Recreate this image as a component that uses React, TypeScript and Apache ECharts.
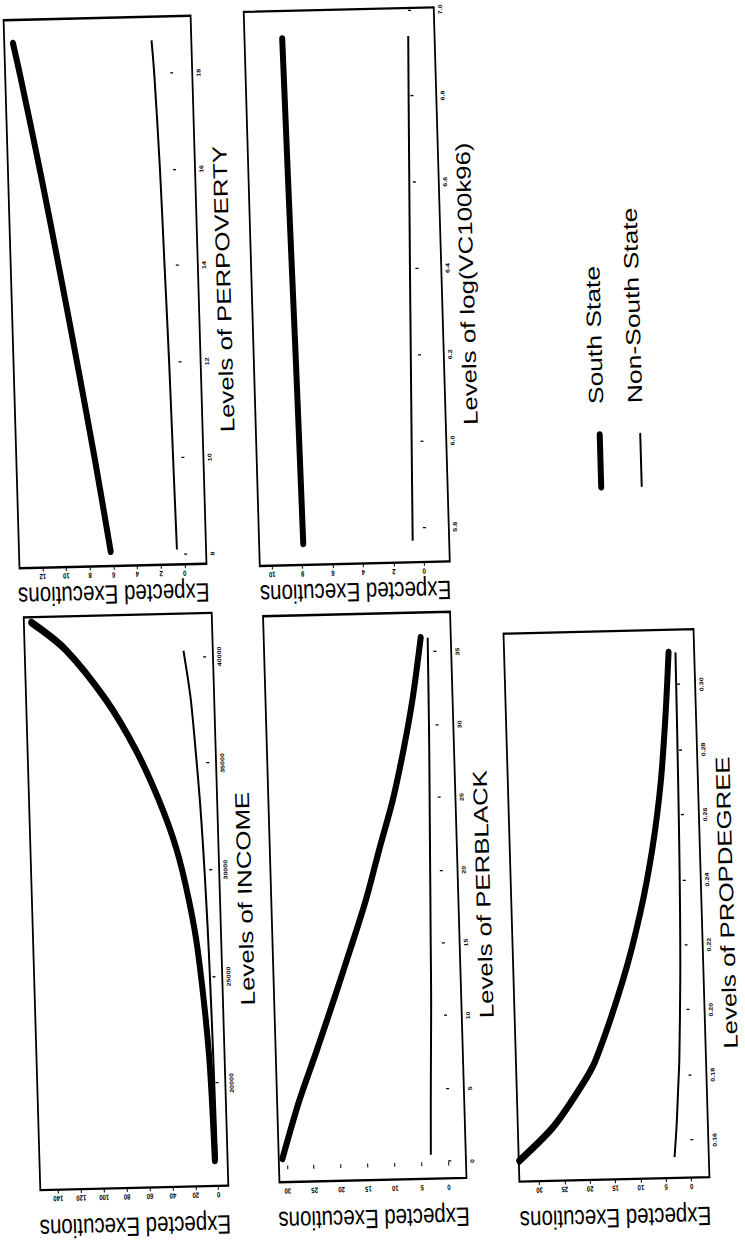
import React, { useEffect, useRef } from "react";
import * as echarts from "echarts";

// ---------- page geometry (the scan is a landscape page, turned, stretched and slightly sheared) ----------
const PAGE_W = 745;
const PAGE_H = 1244;
const STRETCH = 1.29;
const INNER_W = Math.round(PAGE_H / STRETCH);
const INNER_H = PAGE_W;
const SHEAR_X = 0.029;
const SHEAR_Y = 0.024;
const FONT = '"Liberation Sans", Arial, Helvetica, sans-serif';

// ---------- data ----------
// INCOME
const incomeSouthX = [16400, 21400, 26200, 28600, 31000, 33300, 35700, 38100, 40500, 41800];
const incomeSouth = [2.5, 5, 12, 18.5, 28, 42, 61, 86, 120, 149];
const incomeNonX = [16400, 21400, 26200, 28600, 31000, 33300, 35700, 38100, 40300];
const incomeNon = [0.6, 1.3, 2.5, 3.5, 4.8, 6.5, 9, 12, 17];
const incomeTicks = [20000, 25000, 30000, 35000, 40000];
const incomeYTicks = [0, 20, 40, 60, 80, 100, 120, 140];

// PERPOVERTY
const povX = [8.1, 10, 12, 14, 16, 18, 18.7];
const povSouth = [6.2, 7.3, 8.55, 9.85, 11.2, 12.65, 13.2];
const povNon = [0.6, 0.7, 0.8, 0.95, 1.1, 1.35, 1.5];
const povTicks = [8, 10, 12, 14, 16, 18];
const povYTicks = [0, 2, 4, 6, 8, 10, 12];

// PERBLACK
const blackX = [0.5, 4.4, 7.8, 11.2, 14.7, 18.1, 21.6, 25, 28.5, 31.9, 36];
const blackSouth = [30.8, 27.4, 23.9, 20.5, 17.1, 13.9, 11.1, 8.3, 6.0, 4.1, 2.3];
const blackNon = [3.2, 2.9, 2.6, 2.3, 2.1, 1.9, 1.7, 1.5, 1.3, 1.15, 1.0];
const blackTicks = [0, 5, 10, 15, 20, 25, 30, 35];
const blackYTicks = [0, 5, 10, 15, 20, 25, 30];

// log(VC100k96)
const vcX = [5.77, 6.0, 6.2, 6.4, 6.6, 6.8, 6.94];
const vcSouth = [7.9, 7.97, 8.04, 8.12, 8.2, 8.27, 8.32];
const vcNon = [0.7, 0.58, 0.47, 0.36, 0.24, 0.12, 0.03];
const vcTicks = [5.8, 6.0, 6.2, 6.4, 6.6, 6.8, 7.0];
const vcYTicks = [0, 2, 4, 6, 8, 10];

// PROPDEGREE
const degX = [0.155, 0.165, 0.176, 0.185, 0.21, 0.23, 0.25, 0.27, 0.29, 0.31];
const degSouth = [33.8, 27.0, 21.8, 18.3, 12.3, 8.6, 5.8, 3.8, 2.5, 1.5];
const degNon = [3.2, 2.6, 2.1, 1.7, 1.05, 0.72, 0.5, 0.35, 0.23, 0.14];
const degTicks = [0.16, 0.18, 0.2, 0.22, 0.24, 0.26, 0.28, 0.3];
const degYTicks = [0, 5, 10, 15, 20, 25, 30];

const legendNames = ["South State", "Non-South State"];
const yTitle = "Expected Executions";

const pairs = (xs: number[], ys: number[]) => xs.map((x, i) => [x, ys[i]]);

type Panel = {
  grid: { left: number; top: number; width: number; height: number };
  yTitleGap: number;
  xMin: number; xMax: number; xTicks: number[]; xDec: number;
  yMin: number; yMax: number; yTicks: number[];
  south: number[][]; non: number[][];
  title: string;
};

function buildOption() {
  const panels: Panel[] = [
    {
      grid: { left: 48.5, top: 23.6, width: 444, height: 188 },
      yTitleGap: 30,
      xMin: 15200, xMax: 42050, xTicks: incomeTicks, xDec: 0,
      yMin: -8.6, yMax: 155.5, yTicks: incomeYTicks,
      south: pairs(incomeSouthX, incomeSouth), non: pairs(incomeNonX, incomeNon),
      title: "Levels of INCOME",
    },
    {
      grid: { left: 530.6, top: 20.8, width: 424.8, height: 187 },
      yTitleGap: 22,
      xMin: 7.79, xMax: 19.19, xTicks: povTicks, xDec: 0,
      yMin: -1.86, yMax: 13.94, yTicks: povYTicks,
      south: pairs(povX, povSouth), non: pairs(povX, povNon),
      title: "Levels of PERPOVERTY",
    },
    {
      grid: { left: 50.1, top: 262.8, width: 438.8, height: 187 },
      yTitleGap: 30,
      xMin: -1.14, xMax: 37.74, xTicks: blackTicks, xDec: 0,
      yMin: -3.3, yMax: 31.5, yTicks: blackYTicks,
      south: pairs(blackX, blackSouth), non: pairs(blackX, blackNon),
      title: "Levels of PERBLACK",
    },
    {
      grid: { left: 527.9, top: 261, width: 429.5, height: 190 },
      yTitleGap: 22,
      xMin: 5.72, xMax: 7.005, xTicks: vcTicks, xDec: 1,
      yMin: -1.7, yMax: 10.8, yTicks: vcYTicks,
      south: pairs(vcX, vcSouth), non: pairs(vcX, vcNon),
      title: "Levels of log(VC100k96)",
    },
    {
      grid: { left: 46.1, top: 502.6, width: 424.8, height: 190 },
      yTitleGap: 30,
      xMin: 0.1486, xMax: 0.317, xTicks: degTicks, xDec: 2,
      yMin: -3.55, yMax: 33.9, yTicks: degYTicks,
      south: pairs(degX, degSouth), non: pairs(degX, degNon),
      title: "Levels of PROPDEGREE",
    },
  ];

  const tickLabel = {
    fontWeight: "bold" as const,
    fontFamily: FONT,
    color: "#000",
  };

  const grids = panels.map((p) => ({
    ...p.grid,
    show: true,
    borderColor: "#000",
    borderWidth: 1.8,
    backgroundColor: "transparent",
    containLabel: false,
  }));

  const xAxes = panels.map((p, i) => ({
    gridIndex: i,
    type: "value",
    min: p.xMin,
    max: p.xMax,
    axisLine: { show: false },
    splitLine: { show: false },
    axisTick: {
      show: true,
      customValues: p.xTicks,
      length: 3,
      inside: false,
      lineStyle: { color: "#000", width: 1 },
    },
    axisLabel: {
      ...tickLabel,
      fontSize: 5.5,
      customValues: p.xTicks,
      margin: 3,
      formatter: (v: number) => v.toFixed(p.xDec),
    },
  }));

  const yAxes = panels.map((p, i) => ({
    gridIndex: i,
    type: "value",
    min: p.yMin,
    max: p.yMax,
    axisLine: { show: false },
    splitLine: { show: false },
    axisTick: {
      show: true,
      customValues: p.yTicks,
      length: 3,
      inside: false,
      lineStyle: { color: "#000", width: 1 },
    },
    axisLabel: {
      ...tickLabel,
      fontSize: 6,
      customValues: p.yTicks,
      rotate: 90,
      margin: 4,
      formatter: (v: number) => String(v),
    },
  }));

  const series: any[] = [];
  panels.forEach((p, i) => {
    series.push({
      name: legendNames[1],
      type: "line",
      xAxisIndex: i,
      yAxisIndex: i,
      data: p.non,
      showSymbol: false,
      smooth: 0.3,
      lineStyle: { color: "#000", width: 2 },
      z: 2,
    });
    series.push({
      name: legendNames[0],
      type: "line",
      xAxisIndex: i,
      yAxisIndex: i,
      data: p.south,
      showSymbol: false,
      smooth: 0.3,
      lineStyle: { color: "#000", width: 6, cap: "round" },
      z: 3,
    });
  });

  const textStyle = (text: string, align: string, size: number) => ({
    text,
    font: `${size}px ${FONT}`,
    fill: "#000",
    align,
    textAlign: align,
    verticalAlign: "middle",
    textVerticalAlign: "middle",
  });

  const graphics: any[] = [];
  panels.forEach((p) => {
    const g = p.grid;
    graphics.push({
      type: "text",
      x: g.left + g.width / 2,
      y: g.top + g.height + 25,
      style: textStyle(p.title, "center", 20),
    });
    graphics.push({
      type: "text",
      x: g.left - p.yTitleGap,
      y: g.top + g.height / 2,
      rotation: Math.PI / 2,
      style: textStyle(yTitle, "center", 20.5),
    });
  });

  // legend
  const legendRows = [
    { lineY: 604.5, textY: 602, width: 6 },
    { lineY: 645, textY: 641, width: 2 },
  ];
  legendRows.forEach((r, i) => {
    graphics.push({
      type: "line",
      shape: { x1: 583, y1: r.lineY, x2: 623, y2: r.lineY },
      style: { stroke: "#000", lineWidth: r.width, lineCap: "round" },
    });
    graphics.push({
      type: "text",
      x: 647,
      y: r.textY,
      style: textStyle(legendNames[i], "left", 20.5),
    });
  });

  return {
    animation: false,
    backgroundColor: "#fff",
    grid: grids,
    xAxis: xAxes,
    yAxis: yAxes,
    series,
    graphic: { elements: graphics },
  };
}

export default function App() {
  const ref = useRef<HTMLDivElement>(null);
  useEffect(() => {
    document.body.style.margin = "0";
    const chart = echarts.init(ref.current!, null, { renderer: "svg" });
    chart.setOption(buildOption() as any);
    return () => chart.dispose();
  }, []);
  return (
    <div
      style={{
        position: "relative",
        width: PAGE_W,
        height: PAGE_H,
        overflow: "hidden",
        background: "#fff",
      }}
    >
      <div
        ref={ref}
        style={{
          position: "absolute",
          width: INNER_W,
          height: INNER_H,
          left: (PAGE_W - INNER_W) / 2,
          top: (PAGE_H - INNER_H) / 2,
          transformOrigin: "50% 50%",
          transform: `matrix(1, ${-SHEAR_Y}, ${SHEAR_X}, 1, 0, 0) scale(1, ${STRETCH}) rotate(-90deg)`,
        }}
      />
    </div>
  );
}
